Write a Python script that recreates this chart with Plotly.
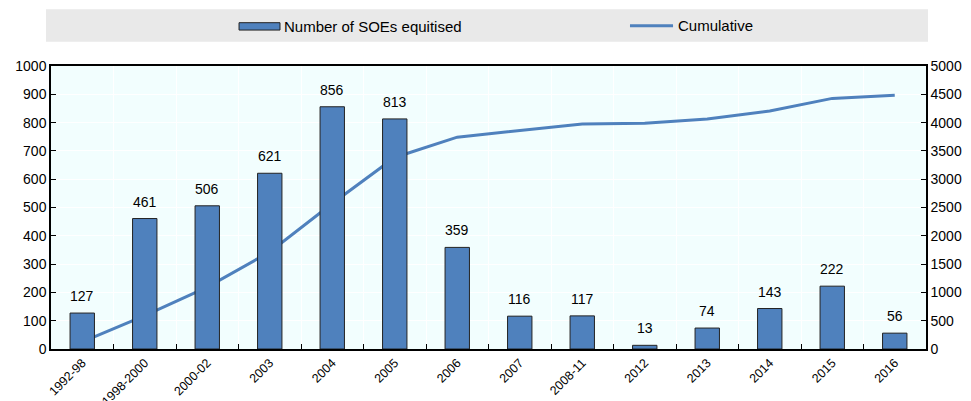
import plotly.graph_objects as go

categories = ["1992-98", "1998-2000", "2000-02", "2003", "2004", "2005", "2006",
              "2007", "2008-11", "2012", "2013", "2014", "2015", "2016"]
soes_equitised = [127, 461, 506, 621, 856, 813, 359, 116, 117, 13, 74, 143, 222, 56]
cumulative = [127, 588, 1094, 1715, 2571, 3384, 3743, 3859, 3976, 3989, 4063, 4206, 4428, 4484]

bar_label = "Number of SOEs equitised"
line_label = "Cumulative"

FONT = "Liberation Sans, Arial, sans-serif"
BLUE = "#4f81bd"

fig = go.Figure()
fig.add_trace(go.Scatter(
    x=categories, y=cumulative, name=line_label, mode="lines",
    line=dict(color=BLUE, width=3), yaxis="y", showlegend=False))
fig.add_trace(go.Bar(
    x=categories, y=soes_equitised, name=bar_label,
    marker=dict(color=BLUE, line=dict(color="#222222", width=1)),
    width=0.39, yaxis="y2", showlegend=False))

annotations = []
for i, v in enumerate(soes_equitised):
    # category axes take the category index as position
    annotations.append(dict(x=i, y=v, xref="x", yref="y2", text=str(v),
                            showarrow=False, yanchor="middle", yshift=17,
                            font=dict(size=14, color="#000000", family=FONT)))
# legend texts
annotations.append(dict(x=0.2645, y=1.1403, xref="paper", yref="paper", text=bar_label,
                        showarrow=False, xanchor="left", yanchor="middle",
                        font=dict(size=15, color="#000000", family=FONT)))
annotations.append(dict(x=0.7143, y=1.1424, xref="paper", yref="paper", text=line_label,
                        showarrow=False, xanchor="left", yanchor="middle",
                        font=dict(size=15, color="#000000", family=FONT)))

shapes = [
    dict(type="rect", xref="paper", yref="paper", x0=-0.0057, x1=1.0023,
         y0=1.0859, y1=1.2004, fillcolor="#e9e9e9", line=dict(width=0), layer="below"),
    dict(type="rect", xref="paper", yref="paper", x0=0.2149, x1=0.2617,
         y0=1.127, y1=1.153, fillcolor=BLUE, line=dict(color="#222222", width=1)),
    dict(type="line", xref="paper", yref="paper", x0=0.6617, x1=0.7109,
         y0=1.1424, y1=1.1424, line=dict(color=BLUE, width=3)),
]

fig.update_layout(
    width=971, height=401,
    margin=dict(l=51, r=45, t=66, b=52, autoexpand=False),
    paper_bgcolor="white", plot_bgcolor="#f2fefe",
    font=dict(family=FONT, size=14, color="#000000"),
    showlegend=False,
    xaxis=dict(type="category", range=[-0.5, len(categories) - 0.5],
               tickson="boundaries", ticks="inside", ticklen=5,
               tickcolor="#000000", showgrid=True, gridcolor="white", gridwidth=1,
               showline=True, linecolor="#000000", linewidth=1.5, mirror=True,
               tickangle=-45, tickfont=dict(size=12.5), automargin=False),
    yaxis=dict(range=[0, 5000], dtick=500, side="right", ticks="inside", ticklen=5,
               tickcolor="#000000", showgrid=False, showline=True, linecolor="#000000",
               linewidth=1.5, zeroline=False, tickfont=dict(size=14), automargin=False),
    yaxis2=dict(range=[0, 1000], dtick=100, side="left", overlaying="y", ticks="inside",
                ticklen=5, tickcolor="#000000", showgrid=True, gridcolor="white",
                showline=True, linecolor="#000000", linewidth=1.5, zeroline=False,
                tickfont=dict(size=14), automargin=False),
    annotations=annotations,
    shapes=shapes,
)

fig.write_html("out.html", config={"displayModeBar": False},
               post_script="document.body.style.margin='0';")
